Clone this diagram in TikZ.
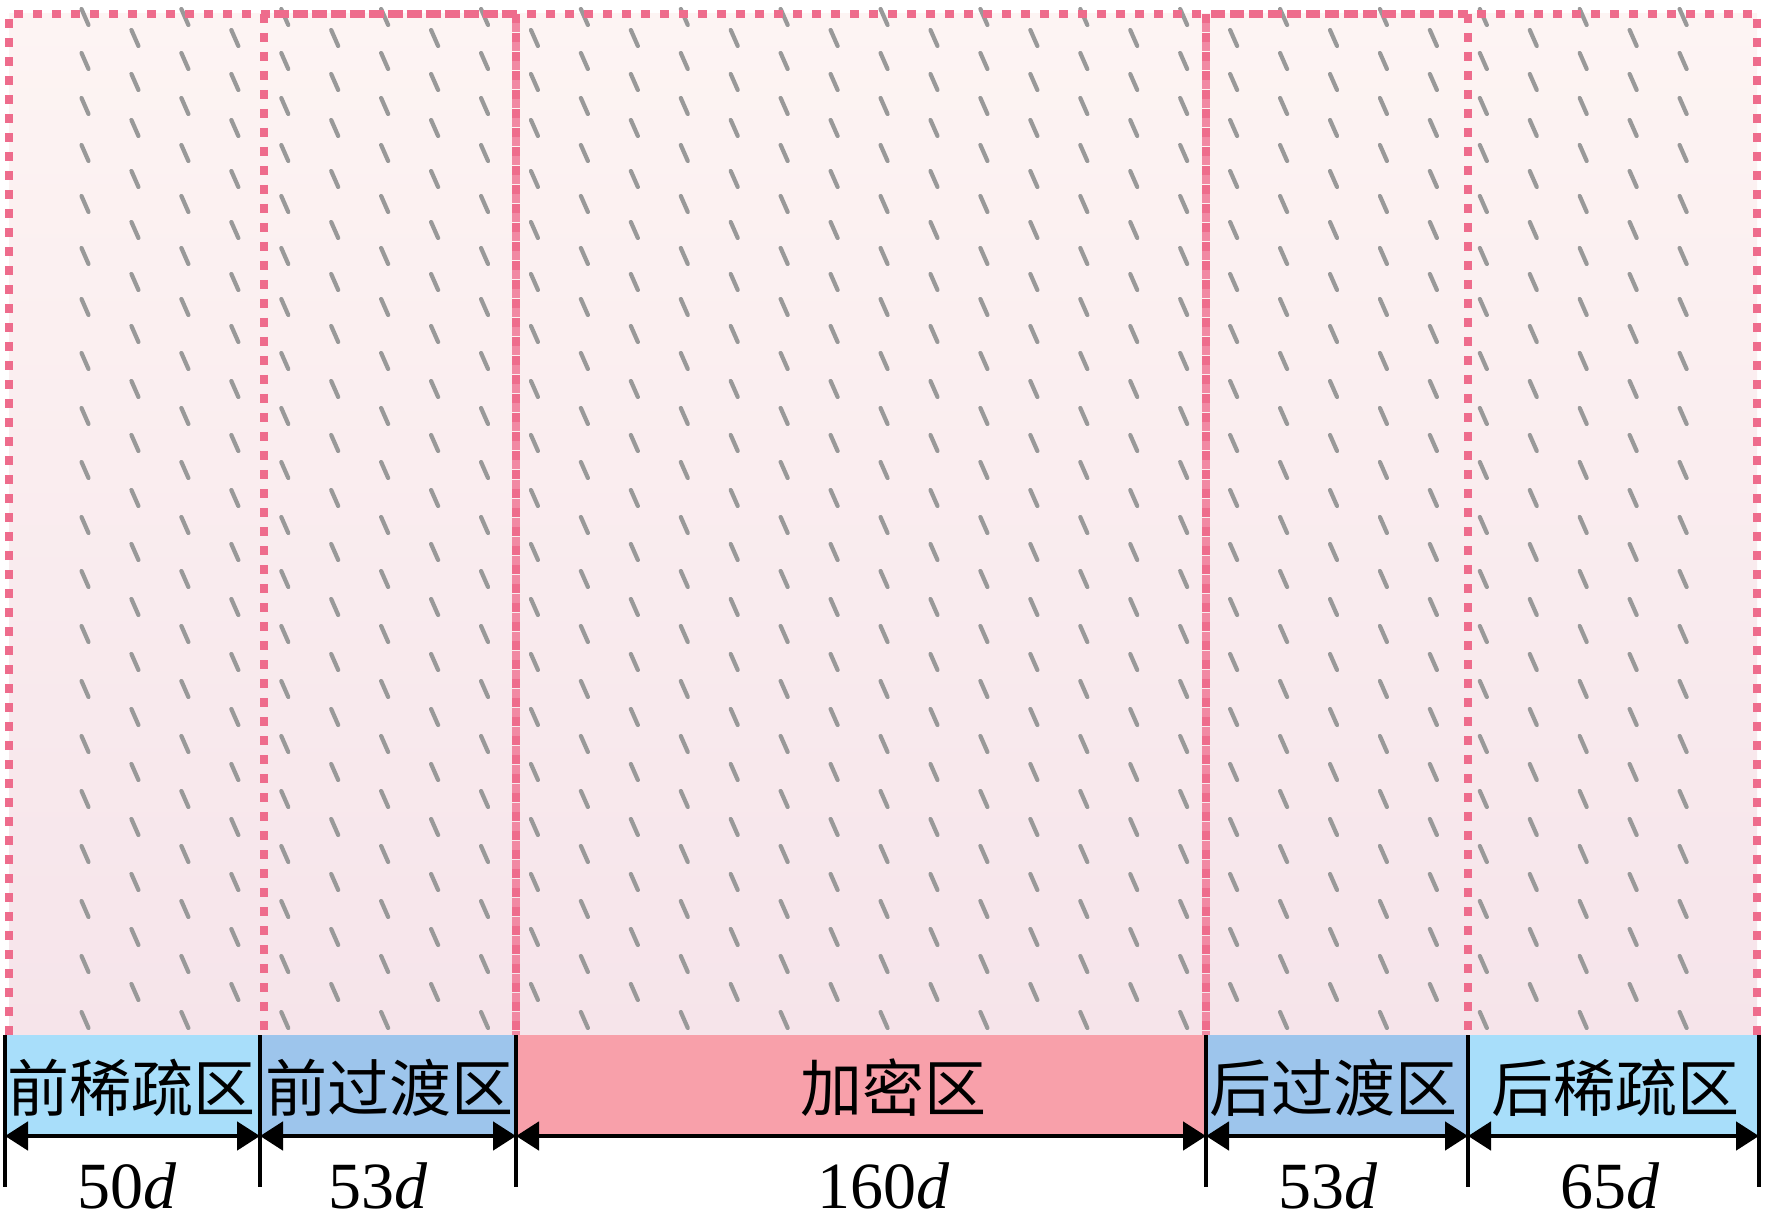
\documentclass[tikz,border=0pt]{standalone}
\usepackage{fontspec}
\setmainfont{Liberation Serif}
\newfontfamily\cjk{Noto Sans CJK SC}
\usetikzlibrary{arrows.meta}

\definecolor{rosaborde}{RGB}{238,108,140}
\definecolor{fondoarriba}{RGB}{253,244,243}
\definecolor{fondoabajo}{RGB}{246,228,234}
\definecolor{azulclaro}{RGB}{168,222,250}
\definecolor{azulmedio}{RGB}{157,197,236}
\definecolor{rosazona}{RGB}{248,160,170}

\begin{document}
\begin{tikzpicture}[
    x=0.5pt, y=-0.5pt,
    >={Triangle[length=11.5pt,width=14pt]},
    borde/.style={draw=rosaborde, line width=3.6pt, dash pattern=on 4.5pt off 5pt},
    fibra/.style={draw=black!40, line width=2.1pt, line cap=round},
    cota/.style={<->, line width=2.4pt},
    marca/.style={line width=2.2pt},
    zona/.style={font=\cjk\fontsize{31pt}{31pt}\selectfont, inner sep=0pt},
    medida/.style={font=\fontsize{33pt}{33pt}\selectfont, anchor=base, inner sep=0pt}
]
  \useasboundingbox (0,0) rectangle (1772,1219);

  % Fondo del dominio
  \shade[top color=fondoarriba, bottom color=fondoabajo] (9,14) rectangle (1757,1035);

  % Fibras
  \foreach \k in {0,2,...,32}
    \foreach \fy in {17,61,106,153,204,256,307,361,416,470,525,579,634,689,744,799,854,909,964,1020}
      \draw[fibra] ({85+49.94*\k-3.5},\fy-8) -- ++(7,16);
  \foreach \k in {1,3,...,31}
    \foreach \fy in {38,82,128,179,230,282,334,389,443,498,552,607,662,717,772,827,882,937,992}
      \draw[fibra] ({85+49.94*\k-3.5},\fy-8) -- ++(7,16);

  % Bordes discontinuos
  \draw[borde] (9,1035) -- (9,14) -- (1757,14) -- (1757,1035);
  \draw[borde, dash phase=4.7pt] (264,14) -- (516,14);
  \draw[borde, dash phase=4.7pt] (1206,14) -- (1468,14);
  \draw[borde] (264,14) -- (264,1035);
  \draw[borde] (1468,14) -- (1468,1035);
  \draw[borde] (516,14) -- (516,1035);
  \draw[borde, draw=rosaborde!80, dash phase=4.75pt] (516,14) -- (516,1035);
  \draw[borde] (1206,14) -- (1206,1035);
  \draw[borde, draw=rosaborde!80, dash phase=4.75pt] (1206,14) -- (1206,1035);

  % Cotas
  \coordinate (c0) at (5,1136);
  \coordinate (c1) at (260,1136);
  \coordinate (c2) at (516,1136);
  \coordinate (c3) at (1206,1136);
  \coordinate (c4) at (1468,1136);
  \coordinate (c5) at (1759,1136);

  % Barras de zonas
  \fill[azulclaro] (5,1035) rectangle (c1);
  \fill[azulmedio] (260,1035) rectangle (c2);
  \fill[rosazona] (516,1035) rectangle (c3);
  \fill[azulmedio] (1206,1035) rectangle (c4);
  \fill[azulclaro] (1468,1035) rectangle (c5);

  % Marcas verticales
  \foreach \i in {0,...,5}
    \draw[marca] (c\i) ++(0,-101) -- ++(0,152);

  % Flechas
  \draw[cota] (c0) -- (c1);
  \draw[cota] (c1) -- (c2);
  \draw[cota] (c2) -- (c3);
  \draw[cota] (c3) -- (c4);
  \draw[cota] (c4) -- (c5);

  % Nombres de zonas
  \node[zona] (z1) at (132,1088) {前稀疏区};
  \node[zona] (z2) at (389,1088) {前过渡区};
  \node[zona] (z3) at (893,1088) {加密区};
  \node[zona] (z4) at (1333,1088) {后过渡区};
  \node[zona] (z5) at (1615,1088) {后稀疏区};

  % Longitudes
  \node[medida] (d1) at (127,1208) {50\textit{d}};
  \node[medida] (d2) at (378,1208) {53\textit{d}};
  \node[medida] (d3) at (884,1208) {160\textit{d}};
  \node[medida] (d4) at (1328,1208) {53\textit{d}};
  \node[medida] (d5) at (1610,1208) {65\textit{d}};

\end{tikzpicture}
\end{document}
